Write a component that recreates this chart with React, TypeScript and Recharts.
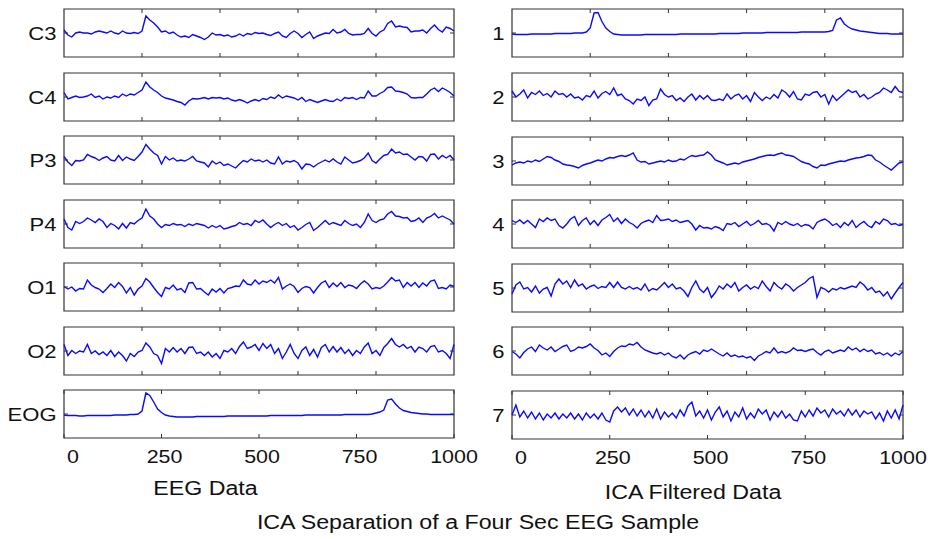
import { LineChart, Line, XAxis, YAxis, ReferenceArea } from "recharts";

// sample index (1000 samples = 4 s), values read every 10 samples
const SAMPLES = [
  0, 10, 20, 30, 40, 50, 60, 70, 80, 90,
  100, 110, 120, 130, 140, 150, 160, 170, 180, 190,
  200, 210, 220, 230, 240, 250, 260, 270, 280, 290,
  300, 310, 320, 330, 340, 350, 360, 370, 380, 390,
  400, 410, 420, 430, 440, 450, 460, 470, 480, 490,
  500, 510, 520, 530, 540, 550, 560, 570, 580, 590,
  600, 610, 620, 630, 640, 650, 660, 670, 680, 690,
  700, 710, 720, 730, 740, 750, 760, 770, 780, 790,
  800, 810, 820, 830, 840, 850, 860, 870, 880, 890,
  900, 910, 920, 930, 940, 950, 960, 970, 980, 990,
  1000,
];

// raw EEG channels
const C3 = [
  3, -2, -4, 0, 1, 0, 0, -1, 1, 2,
  1, 0, 2, 0, -1, 2, 0, -0.5, 0.5, -0.5,
  2, 17, 13, 10, 6, 1, 2, -0.5, 1, -2,
  -4, -3, -4.5, -1.5, -3, -4.5, -6.5, -4, 0, -2,
  -1.5, -3, -2, -4, -3, -1, -3, -0.5, -1.5, 0.5,
  -0.5, 0, -1.5, -2.5, -0.5, 1, -3, -4.5, -0.5, 2,
  -0.5, -4.5, -1.5, 1, -5.5, -3, -1.5, 0, -0.5, 3.5,
  0, 1, 3.5, -0.5, -2, -1.5, -1.5, -0.5, 4.5, -0.5,
  -3, 1, 3, 9.5, 12, 6, 7, 6, 5.5, 1,
  2, 2, 3, 0, 4.5, 8, 3.5, 1, 6, 4.5,
  2,
];
const C4 = [
  4.5, -2, -0.5, 1, -0.5, 0, 1, 3, -0.5, 1,
  -2, 0, -1, 1, -0.5, 3, 1, 3, 2, 4.5,
  7, 15, 10, 7, 4.5, 1, -1, -2, -3, -4.5,
  -5.5, -8, -4, -1.5, -2, -1.5, -0.5, -2, -0.5, -1,
  -0.5, -2, -1, -3, -4, -2.5, -4, -6, -4, -2.5,
  -4, -1.5, -2.5, 0, -1.5, 2, -1, 1, 0, -1,
  -3, -0.5, -4.5, -2.5, -4, -5.5, -4, -2.5, -4, -4.5,
  -2, -4, -0.5, -1.5, -0.5, -2.5, -0.5, -1, 6, 1,
  1, 3.5, 5.5, 9.5, 10, 6, 5.5, 4.5, 3, -0.5,
  -1, -0.5, -0.5, 3, 7, 9, 5.5, 9, 7, 4.5,
  1,
];
const P3 = [
  3.5, -2, -5.5, -0.5, -1, 0, 5.5, 3.5, 2, -0.5,
  2, 3.5, 0, -1, 4.5, -0.5, 3, 1, -0.5, 3.5,
  8, 15.5, 11, 7, 4.5, -4, 3.5, 0, 2, -1,
  0, -1, 1, 3.5, -1, -2, -3, -7, -1, -4,
  -2, -5.5, -4, -6, -8, -4, -0.5, -2, 1, -1,
  0, -2, 0, -3, -4, 3, -4, -1, -2, -0.5,
  -3, -9, -4, -4.5, -7, -4, -2, 0, -2, 1,
  -2, -4, 3, 0, -3, -2, -0.5, 2, 7, -0.5,
  -3, 1, 4.5, 5.5, 11, 7, 8, 5.5, 6, 3,
  0, 3.5, 3, -1, 5.5, 6, 1, 4.5, 2, 4.5,
  0,
];
const P4 = [
  5, -3.5, -6, 2.5, 0.5, 2.5, 6, 4, 1.5, 5,
  2.5, -3.5, 0.5, -1.5, -5, 0.5, -4, 1.5, 0, 3.5,
  6, 15, 8, 5, 0, -3.5, -0.5, -1.5, 0.5, -1,
  -0.5, -2.5, 0, -1.5, 0.5, -0.5, -1.5, -4, -1.5, -3.5,
  -1.5, -5, -4, -2.5, -1.5, 1.5, -0.5, 0.5, -1.5, 3.5,
  1.5, 4, 0, -3.5, -0.5, 1.5, -1.5, 0.5, -3.5, -1.5,
  -6, -3.5, -0.5, 1.5, -6.5, -3.5, 0, 3.5, -0.5, 1.5,
  0, -1.5, 3.5, 0.5, -1.5, 0, -3.5, 1.5, 10, 3.5,
  1.5, 4, 5, 10, 12.5, 8, 7.5, 6, 6.5, 2.5,
  3.5, 6, 1.5, 6, 7.5, 10.5, 6, 8, 6, 4,
  0,
];
const O1 = [
  0.5, -2, 0, -4, -1.5, -2, 7, 2, -0.5, -2,
  -5.5, -1.5, 3, -0.5, 4.5, 0.5, -6, -0.5, -8, -2,
  1, 8.5, 5, -0.5, -5.5, -9.5, -0.5, -2, 2, -3,
  -1.5, -5.5, 4, 4.5, -2, -1.5, -5, -8, -2, -5,
  -1.5, -6, -1.5, -0.5, 1, 0.5, 7, 3, 2, 7,
  3, 6, 4.5, 7, 4, 9.5, -2, 1, 3, 0.5,
  -5.5, -1.5, 0.5, -0.5, -6, -0.5, 4, 6, -0.5, 4,
  0.5, 4.5, -0.5, 2, 1, -1.5, 3, 6, 3, -2,
  -0.5, -1.5, 1, 5, 9.5, 6, 7, -0.5, 4.5, 1,
  4.5, -0.5, 4, 1, 6, 7, -1.5, -0.5, -2, 2,
  0.5,
];
const O2 = [
  6.5, -4.5, 0.5, -2.5, 0, -1, 6.5, -2.5, 0, -3.5,
  -1, -4.5, 0.5, -5.5, -1, -4.5, -10, -2.5, -5.5, -1,
  0.5, 8, 4, -2.5, -4.5, -12.5, 2.5, -1, 3.5, -1,
  2.5, -2.5, 3.5, 4, -2.5, -1, -4.5, -1, -6, -2.5,
  -7.5, 0.5, -1, 2.5, -2.5, 4.5, 9, 2.5, 4, 6.5,
  0.5, 7.5, 2.5, 6.5, -2.5, 2.5, -7.5, -1, 6.5, -2.5,
  -7.5, 0.5, 4, -4.5, 1.5, -6, 3.5, 6.5, -1, 4.5,
  -1, 3.5, -2.5, 1.5, -4.5, 0.5, -2.5, 4, 8, -2.5,
  0.5, -4.5, 3.5, 7.5, 12.5, 6.5, 4, 6.5, 2.5, 4.5,
  -1, 4, 2.5, -1, 4.5, 5.5, -1, 0.5, -2.5, -7.5,
  6.5,
];
const EOG = [
  -1, -1.5, -1.5, -1.5, -2, -2, -1.5, -1.5, -1.5, -1.5,
  -1.5, -1.5, -1.5, -1, -1, -1, -1, -0.5, -0.5, 0,
  3, 21, 18.5, 12, 5, 1.5, -1, -2, -2.5, -3,
  -3, -3, -3, -3, -2.5, -2.5, -2.5, -2.5, -2.5, -2.5,
  -2.5, -2.5, -2, -2, -2, -2, -2, -2, -2, -2,
  -2, -2, -2, -1.5, -1.5, -1.5, -1.5, -1.5, -1.5, -1.5,
  -1.5, -1.5, -1, -1, -1, -1, -1, -1, -1, -1,
  -1, -1, -0.5, -0.5, -0.5, -0.5, -0.5, -0.5, -0.5, 0,
  1, 2, 4, 14, 15, 10, 6, 3.5, 2.5, 1.5,
  1, 0.5, 0, 0, -0.5, -0.5, -0.5, -0.5, -0.5, -0.5,
  -0.5,
];

// ICA components
const IC1 = [
  -1, -1.5, -1.5, -1.5, -1.5, -1, -1, -1, -1, -1,
  -1, -0.5, -0.5, -0.5, -0.5, -0.5, 0, 0, 0, 1,
  5, 20, 20.5, 11.5, 5, 1.5, -1, -1.5, -2, -2,
  -2, -2, -2, -2, -1.5, -1.5, -1.5, -1.5, -1.5, -1.5,
  -1.5, -1.5, -1.5, -1, -1, -1, -1, -1, -1, -1,
  -1, -1, -1, -0.5, -0.5, -0.5, -0.5, -0.5, -0.5, 0,
  0, 0, 0, 0, 0, 0.5, 0.5, 0.5, 0.5, 0.5,
  0.5, 0.5, 0.5, 0.5, 1, 1, 1, 1, 1, 1,
  1, 1.5, 2.5, 13, 15, 9, 6, 4, 3, 2,
  1.5, 1, 0.5, 0, -0.5, -0.5, -0.5, -1, -1, -1,
  -1,
];
const IC2 = [
  6, 0, 3, 7, -1, 4.5, 2.5, 6, 1.5, 3.5,
  0, 6, 2.5, 3.5, 0, 3, -1, 0, -3, 1.5,
  0, 6, -1, 3.5, 5.5, 2.5, 9, 1.5, 3, -2,
  -3.5, -7, -2, -3.5, 0, -8.5, -3, -2, 8, 2.5,
  0, 1.5, -3.5, -1, -4.5, 0, 3, -3, 1.5, -2,
  1.5, -3, -3.5, -2, -3.5, 3, -2, 1.5, 3, -2,
  1.5, -4.5, 4.5, 0, -3.5, 0, -2, 2.5, -1, 7,
  4.5, 0, 5.5, -2, -3, 3, 1.5, 4.5, 5.5, 0,
  2.5, -7, 1.5, -3.5, 0, 3.5, 7, 4.5, 6, 0,
  2.5, -2, 0, 3, 4.5, 9, 7, 4.5, 10.5, 5.5,
  4.5,
];
const IC3 = [
  -4, -2, -1, -2, 0, -1, 1, -0.5, 2, 4.5,
  3.5, 1, -0.5, -3, -4, -4.5, -5.5, -7, -4.5, -3,
  -2, -0.5, 1, 0, 2, 3.5, 3, 4.5, 5.5, 4.5,
  6, 8, 1, -1, -0.5, -3, -2, -1, 0, -1,
  1, -0.5, 0, 2, 1, 3.5, 5.5, 4.5, 5.5, 6,
  9, 6, 1, -0.5, -2, -4, -3, -2, -3, -1,
  0, 1, 2, 3.5, 4.5, 5.5, 6, 5.5, 7, 8,
  6, 5.5, 4.5, 2, -0.5, -2, -3, -5.5, -7, -4,
  -4.5, -3, -2, -1, 0, -0.5, 1, 2, 3, 3.5,
  4.5, 6, 5.5, 1, -1, -4, -6.5, -9, -5.5, -2,
  -1,
];
const IC4 = [
  3.5, 1.5, 4, 0.5, 3.5, 0, -3.5, 5, 2.5, 6,
  3.5, 5, -1.5, -4, 0, 5, 7.5, -1.5, 3.5, 6,
  -0.5, 3.5, -1.5, 4, 6.5, 9.5, 2.5, 6, 0.5, 5,
  1.5, -0.5, -4, 0.5, 2.5, 4, 1.5, 8.5, 3.5, 4,
  5, 2.5, 4, 1.5, 2.5, 3.5, 0, -6, -1.5, -4,
  -3.5, -5, -2.5, -4, -6.5, 0.5, -0.5, 1.5, -2.5, 0,
  2.5, -1.5, 0.5, 3.5, -0.5, 0.5, -1.5, -7, 1.5, -0.5,
  2.5, 0, -1.5, 0.5, -2.5, -0.5, -1.5, -5, 1.5, 3.5,
  5, 2.5, -1.5, 0.5, -3.5, 1.5, -1.5, 3.5, -3.5, 0,
  2.5, -1.5, -3.5, 2.5, 0, 5, 3.5, -0.5, 0.5, -1.5,
  -0.5,
];
const IC5 = [
  -6, 3, 6, -1, 0.5, -4, 2, -5, -1, 0.5,
  -8, 4, 9, 4, 7, 0.5, 8, 2, 4, -1,
  1.5, 3, -0.5, 1.5, 0.5, 5.5, 0.5, 6, 0.5, -1,
  1.5, -1, 0.5, -2, 4, -3, -0.5, -2, 1.5, 5.5,
  0.5, 4, -1, 0.5, -3, -8.5, 0.5, 7, -1, -4.5,
  0.5, -9.5, -4.5, 2, -1, 4, 0.5, 5.5, -3, 0.5,
  3, -1, 1.5, -0.5, 7, 1.5, -3, 5.5, 1.5, -1,
  4, 1.5, -3, 0.5, 3, 5.5, 9.5, 11.5, -9.5, 0.5,
  -1, -4, -0.5, -2, 0.5, -1, 0.5, 2, 0.5, 6,
  3, -2, 0.5, -4.5, -3, -8, -4, -11, -5, 0.5,
  5.5,
];
const IC6 = [
  -0.5, -3, -7, -1.5, 2, 4, -0.5, 6, 3, 1,
  4, -0.5, 2, 4.5, 6, -0.5, 1, 4, 3, 4.5,
  7, 3, 0.5, -4, -2, -5.5, -0.5, 3, 5, 4.5,
  7, 6, 8.5, 4, 1, -0.5, -2, -3, -1.5, -4,
  -2, -5.5, -7, -4, -8, -4, -2, -0.5, -3, 1,
  -0.5, 2, -0.5, -3, -5, -2, -5.5, -4, -6, -5,
  -7, -5.5, -9.5, -5, -3, -0.5, -2, 3, -2, -0.5,
  -2, -0.5, 3, 0.5, 1, -0.5, 1, 2, -1.5, -4,
  -0.5, 1, -2, -0.5, 1, -0.5, 4, 1, 3, -0.5,
  2, -0.5, 1, -3, -1.5, -4, -2, -5, -2, -4,
  -0.5,
];
const IC7 = [
  0, 10, -2, 4, -3, 3, -4, 2, -5, 1,
  -3, 2, -4, 1, -3, 2, -4, 1, -5, 2,
  -3, 1, -4, 2, -5, -7, 4, 8, 3, 7,
  0, 6, -1, 5, -2, 4, -3, 6, -4, 3,
  -2, 2, -3, 5, -1, 9, 13, -1, 4, -3,
  5, -5, 3, 8, -2, 4, -6, 3, -2, 7,
  -4, 2, -3, 6, 1, 5, -5, 3, -2, 4,
  -3, 1, -5, -6, 4, -2, 5, -1, 7, 2,
  5, -2, 6, 1, 4, -1, 6, 0, 5, -2,
  4, 1, 3, -4, 2, -6, 4, -3, 5, -4,
  10,
];

const EEG_NAMES = ["C3", "C4", "P3", "P4", "O1", "O2", "EOG"];
const EEG_SERIES = [C3, C4, P3, P4, O1, O2, EOG];
const ICA_NAMES = ["1", "2", "3", "4", "5", "6", "7"];
const ICA_SERIES = [IC1, IC2, IC3, IC4, IC5, IC6, IC7];

const INNER_TICKS = [200, 400, 600, 800];
const BOTTOM_TICKS = [0, 250, 500, 750, 1000];

const PLOT_H = 48;
const RIGHT_PAD = 28;
const Y_DOMAIN = [-24, 24];
const FONT = "'Liberation Sans', Arial, Helvetica, sans-serif";
const STRETCH = 1.19;
const BOX = "#333333";
const TRACE = "#0a0aff";

// nudge for the bottom tick labels so they sit like the original figure
function labelShift(v: number) {
  if (v === 0) return 9;
  if (v === 1000) return 0;
  return 3;
}

function XTick(props: any) {
  const { x, y, payload, labeled } = props;
  return (
    <g>
      <line x1={x} x2={x} y1={y} y2={y - 4} stroke={BOX} strokeWidth={1} />
      <line x1={x} x2={x} y1={y - PLOT_H} y2={y - PLOT_H + 4} stroke={BOX} strokeWidth={1} />
      {labeled && (
        <text
          transform={`translate(${x + labelShift(payload.value)},${y + 25}) scale(${STRETCH},1)`}
          textAnchor="middle"
          fontFamily={FONT}
          fontSize={18}
          fill="#111"
        >
          {payload.value}
        </text>
      )}
    </g>
  );
}

function YTick(props: any) {
  const { x, y, label, plotWidth } = props;
  return (
    <g>
      <line x1={x} x2={x + 4} y1={y} y2={y} stroke={BOX} strokeWidth={1} />
      <line x1={x + plotWidth} x2={x + plotWidth - 4} y1={y} y2={y} stroke={BOX} strokeWidth={1} />
      <text
        transform={`translate(${x - 7.5},${y + 6.8}) scale(${STRETCH},1)`}
        textAnchor="end"
        fontFamily={FONT}
        fontSize={18.5}
        fill="#111"
      >
        {label}
      </text>
    </g>
  );
}

type PanelProps = {
  label: string;
  values: number[];
  left: number;
  top: number;
  axisWidth: number;
  plotWidth: number;
  last: boolean;
};

function Panel({ label, values, left, top, axisWidth, plotWidth, last }: PanelProps) {
  const data = SAMPLES.map((s, i) => ({ s, v: values[i] }));
  const bottomH = last ? 40 : 1;
  return (
    <div style={{ position: "absolute", left, top: top - 1 }}>
      <LineChart
        width={axisWidth + plotWidth + RIGHT_PAD}
        height={1 + PLOT_H + bottomH}
        data={data}
        margin={{ top: 1, right: RIGHT_PAD, bottom: 0, left: 0 }}
      >
        <XAxis
          dataKey="s"
          type="number"
          domain={[0, 1000]}
          ticks={last ? BOTTOM_TICKS : INNER_TICKS}
          interval={0}
          height={bottomH}
          axisLine={false}
          tickLine={false}
          tickSize={0}
          tickMargin={0}
          tick={(p: any) => <XTick {...p} labeled={last} />}
        />
        <YAxis
          type="number"
          domain={Y_DOMAIN}
          ticks={[0]}
          width={axisWidth}
          allowDataOverflow
          axisLine={false}
          tickLine={false}
          tickSize={0}
          tickMargin={0}
          tick={(p: any) => <YTick {...p} label={label} plotWidth={plotWidth} />}
        />
        <ReferenceArea
          x1={0}
          x2={1000}
          y1={Y_DOMAIN[0]}
          y2={Y_DOMAIN[1]}
          fill="none"
          stroke={BOX}
          strokeWidth={1.2}
        />
        <Line
          type="linear"
          dataKey="v"
          stroke={TRACE}
          strokeWidth={1.4}
          dot={false}
          isAnimationActive={false}
        />
      </LineChart>
    </div>
  );
}

export default function App() {
  return (
    <div
      style={{
        position: "absolute",
        left: 0,
        top: 0,
        width: 928,
        height: 539,
        background: "#fff",
        overflow: "hidden",
      }}
    >
      {EEG_SERIES.map((vals, i) => (
        <Panel
          key={EEG_NAMES[i]}
          label={EEG_NAMES[i]}
          values={vals}
          left={0}
          top={9 + i * 63.5}
          axisWidth={64}
          plotWidth={390}
          last={i === EEG_SERIES.length - 1}
        />
      ))}
      {ICA_SERIES.map((vals, i) => (
        <Panel
          key={ICA_NAMES[i]}
          label={ICA_NAMES[i]}
          values={vals}
          left={470}
          top={9.3 + i * 63.6}
          axisWidth={42}
          plotWidth={391}
          last={i === ICA_SERIES.length - 1}
        />
      ))}
      <svg
        width={928}
        height={539}
        style={{ position: "absolute", left: 0, top: 0, pointerEvents: "none" }}
      >
        <g fontFamily={FONT} fontSize={19.5} fill="#111" textAnchor="middle">
          <text transform={`translate(205.5,495) scale(${STRETCH},1)`}>EEG Data</text>
          <text transform={`translate(693,498.5) scale(${STRETCH},1)`}>ICA Filtered Data</text>
          <text transform={`translate(478,529) scale(${STRETCH},1)`}>
            ICA Separation of a Four Sec EEG Sample
          </text>
        </g>
      </svg>
    </div>
  );
}
